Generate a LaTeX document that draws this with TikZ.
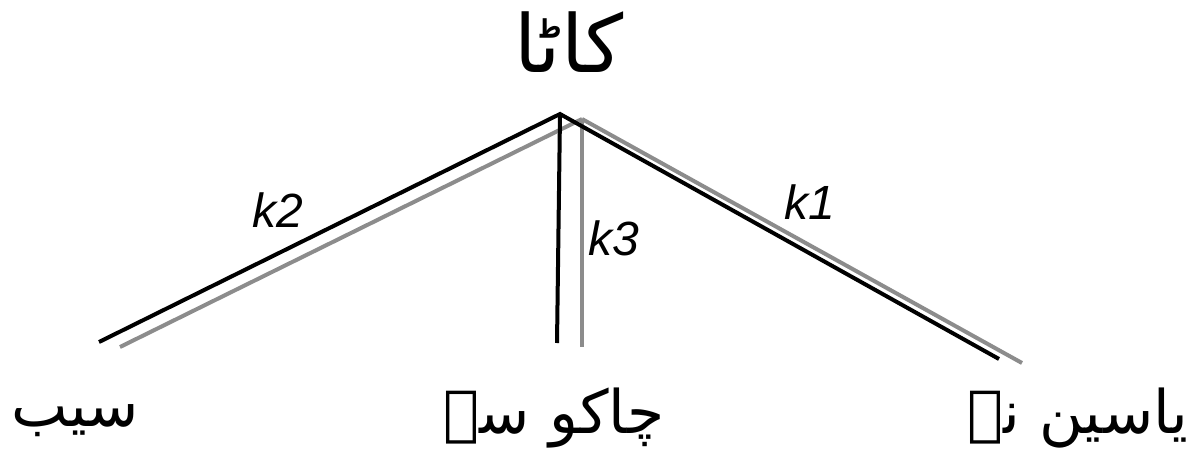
\documentclass[tikz,border=0pt]{standalone}
\usepackage{fontspec}
\setsansfont{Liberation Sans}
\newfontfamily\urdu[Script=Arabic]{DejaVu Sans}
\TeXXeTstate=1
\usetikzlibrary{positioning}
\definecolor{treeblack}{HTML}{000000}
\definecolor{shadegray}{HTML}{8C8C8C}

\begin{document}
\begin{tikzpicture}[
    x=1pt, y=-1pt,
    head/.style={inner sep=0pt,font=\fontsize{80}{88}\selectfont\urdu},
    word/.style={inner sep=0pt,font=\fontsize{60}{68}\selectfont\urdu},
    lbl/.style={inner sep=0pt,font=\fontsize{48}{56}\selectfont\sffamily\itshape},
    branch/.style={draw=treeblack,line width=4pt},
    shade/.style={draw=shadegray,line width=4pt}
  ]
    \useasboundingbox (0,0) rectangle (1192,461);

    \node[head] (verb) at (569,42) {\beginR کاٹا\endR};

    \coordinate (apex)  at (560,114);
    \coordinate (apexg) at (582,119);
    \coordinate (left)  at (99,342);
    \coordinate (mid)   at (557,343);
    \coordinate (right) at (999,359);
    \coordinate (leftg)  at (120,347);
    \coordinate (midg)   at (582,347);
    \coordinate (rightg) at (1022,363);

    \node[word] (obj)  at (75,421)   {\beginR سیب\endR};
    \node[word] (inst) at (554,418)  {\beginR چاکو سے\endR};
    \node[word] (subj) at (1078,418) {\beginR یاسین نے\endR};

    % gray copies first, black on top
    \draw[shade] (apexg) -- (leftg);
    \draw[shade] (apexg) -- (midg);
    \draw[shade] (apexg) -- (rightg);

    \draw[branch] (left) -- (apex) -- (right);
    \draw[branch] (apex) -- (mid);

    \node[lbl] (k2) at (278,210) {k2};
    \node[lbl] (k3) at (614,238) {k3};
    \node[lbl] (k1) at (810,202) {k1};
  \end{tikzpicture}
\end{document}
